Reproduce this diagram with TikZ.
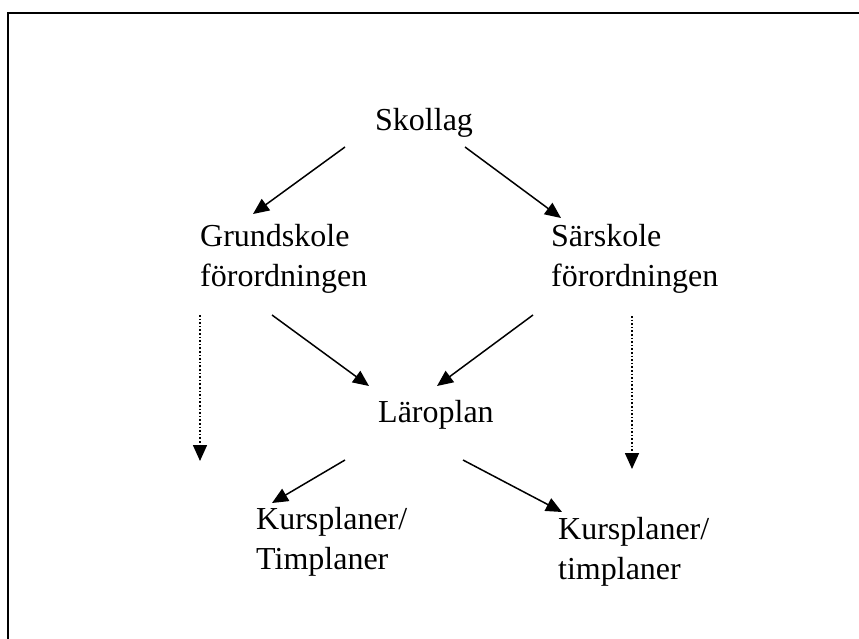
\documentclass[tikz,border=0pt]{standalone}
\usepackage{fontspec}
\setmainfont{Liberation Serif}
\usetikzlibrary{arrows.meta}
\begin{document}
\begin{tikzpicture}[x=1pt,y=-1pt,
  lbl/.style={anchor=base west,inner sep=0pt,align=left,font=\fontsize{32}{40}\selectfont},
  conn/.style={line width=1.5pt,-{Triangle[length=16pt,width=14pt]}},
  dconn/.style={line width=1.6pt,dotted,-{Triangle[length=16pt,width=14pt]}}]
\useasboundingbox (0,0) rectangle (859,639);
\draw[line width=2pt] (8,639) -- (8,13) -- (859,13);
\node[lbl] (skollag) at (375,131) {Skollag};
\node[lbl] (grund) at (200,286) {Grundskole\\förordningen};
\node[lbl] (sar) at (551,286) {Särskole\\förordningen};
\node[lbl] (laro) at (378,422) {Läroplan};
\node[lbl] (kursL) at (256,569) {Kursplaner/\\Timplaner};
\node[lbl] (kursR) at (558,579) {Kursplaner/\\timplaner};
\coordinate (a1s) at (345,147); \coordinate (a1e) at (253,214);
\coordinate (a2s) at (465,147); \coordinate (a2e) at (561,218);
\coordinate (a3s) at (272,315); \coordinate (a3e) at (369,386);
\coordinate (a4s) at (533,315); \coordinate (a4e) at (437,386);
\coordinate (a5s) at (200,315); \coordinate (a5e) at (200,461);
\coordinate (a6s) at (632,316); \coordinate (a6e) at (632,469);
\coordinate (a7s) at (345,460); \coordinate (a7e) at (272,503);
\coordinate (a8s) at (463,460); \coordinate (a8e) at (562,512);
\draw[conn] (a1s) -- (a1e);
\draw[conn] (a2s) -- (a2e);
\draw[conn] (a3s) -- (a3e);
\draw[conn] (a4s) -- (a4e);
\draw[dconn] (a5s) -- (a5e);
\draw[dconn] (a6s) -- (a6e);
\draw[conn] (a7s) -- (a7e);
\draw[conn] (a8s) -- (a8e);
\end{tikzpicture}
\end{document}
